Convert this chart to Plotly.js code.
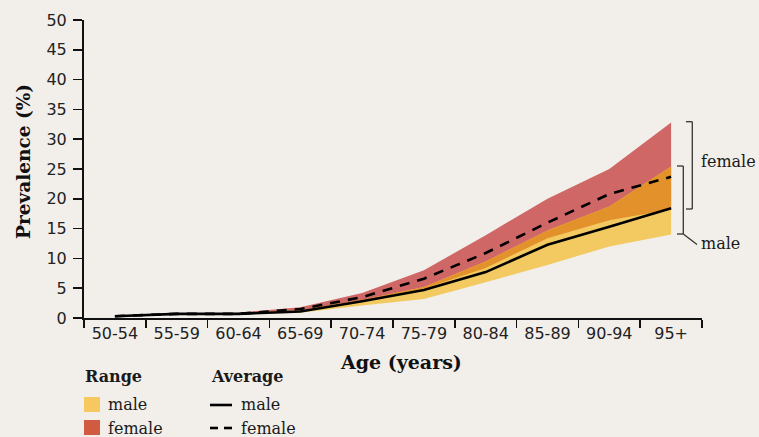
<!DOCTYPE html>
<html>
<head>
<meta charset="utf-8">
<script src="https://cdn.plot.ly/plotly-3.0.1.min.js"></script>
<style>
  html, body { margin: 0; padding: 0; background: #f2efeb; }
  #chart { width: 759px; height: 437px; }
</style>
</head>
<body>
<div id="chart"></div>
<script>
// ---- Data ----
const ageGroups = ["50-54","55-59","60-64","65-69","70-74","75-79","80-84","85-89","90-94","95+"];
const maleAvg   = [0.3, 0.7, 0.7, 1.1, 2.8, 4.7, 7.7, 12.3, 15.3, 18.4];
const femaleAvg = [0.3, 0.7, 0.7, 1.5, 3.5, 6.6, 10.9, 16.0, 20.8, 23.7];
const maleLow   = [0.3, 0.7, 0.6, 0.9, 2.1, 3.2, 6.0, 8.9, 12.0, 14.0];
const maleHigh  = [0.3, 0.7, 0.8, 1.3, 3.0, 5.2, 9.5, 14.7, 18.7, 25.4];
const femaleLow = [0.3, 0.7, 0.7, 1.0, 2.9, 4.9, 8.4, 13.4, 16.4, 18.2];
const femaleHigh= [0.3, 0.7, 0.9, 1.8, 4.2, 8.0, 13.9, 20.0, 25.0, 32.8];

// overlap of the two ranges
const overlapHigh = maleHigh.map((v, i) => Math.min(v, femaleHigh[i]));
const overlapLow  = maleLow.map((v, i) => Math.min(Math.max(v, femaleLow[i]), overlapHigh[i]));

const BG = "#f2efeb";
const YELLOW = "#f2ca61";
const RED = "#cf6766";
const ORANGE = "#e3922b";
const LEG_YELLOW = "#f6c85f";
const LEG_RED = "#d05b41";

function band(low, high, color) {
  return [
    { x: ageGroups, y: low, type: "scatter", mode: "lines", line: { width: 0, color: color }, hoverinfo: "skip", showlegend: false },
    { x: ageGroups, y: high, type: "scatter", mode: "lines", fill: "tonexty", fillcolor: color, line: { width: 0, color: color }, hoverinfo: "skip", showlegend: false }
  ];
}

const traces = [
  ...band(femaleLow, femaleHigh, RED),
  ...band(maleLow, maleHigh, YELLOW),
  ...band(overlapLow, overlapHigh, ORANGE),
  { x: ageGroups, y: femaleAvg, type: "scatter", mode: "lines", line: { color: "#000", width: 2.6, dash: "10px,8px" }, showlegend: false, hoverinfo: "skip" },
  { x: ageGroups, y: maleAvg, type: "scatter", mode: "lines", line: { color: "#000", width: 2.6 }, showlegend: false, hoverinfo: "skip" }
];

// pixel -> paper helpers (plot area: x 84..702, y 20..318)
const L = 84, R = 702, T = 20, B = 318;
const px = x => (x - L) / (R - L);
const py = y => (B - y) / (B - T);

const serif = "DejaVu Serif";
const ann = (x, y, text, opts = {}) => Object.assign({
  xref: "paper", yref: "paper", x: px(x), y: py(y), text: text, showarrow: false,
  xanchor: "left", yanchor: "middle", font: { family: serif, size: 16, color: "#1a1a1a" }
}, opts);
const line = (x0, y0, x1, y1, color = "#333", width = 1.3, dash = "solid") => ({
  type: "line", xref: "paper", yref: "paper", x0: px(x0), y0: py(y0), x1: px(x1), y1: py(y1),
  line: { color: color, width: width, dash: dash }
});
const rect = (x0, y0, x1, y1, color) => ({
  type: "rect", xref: "paper", yref: "paper", x0: px(x0), y0: py(y0), x1: px(x1), y1: py(y1),
  fillcolor: color, line: { width: 0 }
});

const annotations = [
  ann(401, 362, "<b>Age (years)</b>", { xanchor: "center", font: { family: serif, size: 19, color: "#111" } }),
  ann(23, 162, "<b>Prevalence (%)</b>", { xanchor: "center", textangle: -90, font: { family: serif, size: 18.5, color: "#111" } }),
  ann(83, 377, "<b>Range</b>"),
  ann(209, 377, "<b>Average</b>"),
  ann(106, 404, "male"),
  ann(106, 428, "female"),
  ann(239, 404, "male"),
  ann(239, 428, "female"),
  ann(699, 161, "female"),
  ann(699, 243, "male")
];

const shapes = [
  rect(84, 397, 100, 412, LEG_YELLOW),
  rect(84, 420, 100, 435, LEG_RED),
  line(210, 405, 232, 405, "#000", 2.6),
  line(210, 428, 218, 428, "#000", 2.6),
  line(224, 428, 232, 428, "#000", 2.6),
  // female bracket
  line(692.3, 121.7, 692.3, 209),
  line(686, 121.7, 692.3, 121.7),
  line(686, 209, 692.3, 209),
  // male bracket
  line(683.3, 166, 683.3, 234),
  line(677, 166, 683.3, 166),
  line(677, 234, 683.3, 234),
  line(683.3, 234, 697, 244.5)
];

const layout = {
  width: 759, height: 437,
  margin: { l: L, r: 759 - R, t: T, b: 437 - B },
  paper_bgcolor: BG, plot_bgcolor: BG,
  showlegend: false,
  hovermode: false,
  xaxis: {
    type: "category", range: [-0.5, 9.5], tickson: "boundaries",
    showline: true, linecolor: "#111", linewidth: 2,
    ticks: "outside", ticklen: 8, tickwidth: 1.5, tickcolor: "#111",
    showgrid: false, zeroline: false,
    tickfont: { family: "DejaVu Sans", size: 16, color: "#222" }
  },
  yaxis: {
    range: [0, 50], dtick: 5, tick0: 0,
    showline: true, linecolor: "#111", linewidth: 2,
    ticks: "outside", ticklen: 9, tickwidth: 1.5, tickcolor: "#111",
    showgrid: false, zeroline: false,
    ticklabelstandoff: 3,
    tickfont: { family: "DejaVu Sans", size: 16, color: "#222" }
  },
  annotations: annotations,
  shapes: shapes
};

Plotly.newPlot("chart", traces, layout, { displayModeBar: false, staticPlot: true });
</script>
</body>
</html>
